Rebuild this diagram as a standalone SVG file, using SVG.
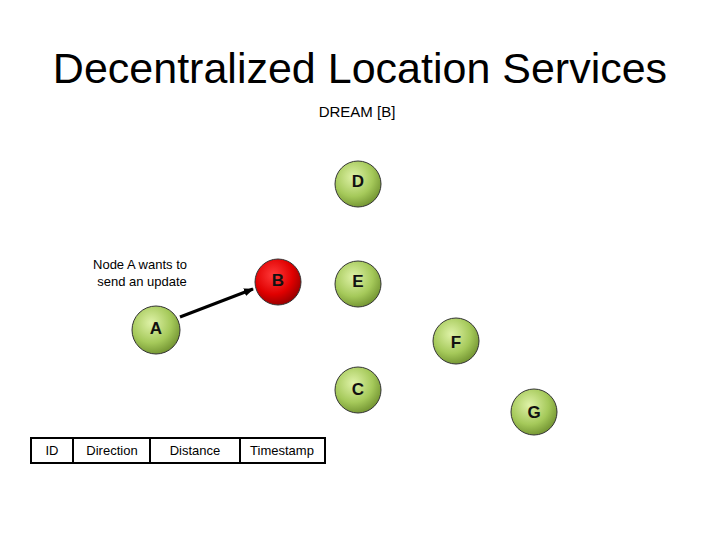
<svg xmlns="http://www.w3.org/2000/svg" width="720" height="540" viewBox="0 0 720 540">
<defs>
<radialGradient id="g" cx="0.4" cy="0.35" r="0.7"><stop offset="0" stop-color="#dff2a8"/><stop offset="0.6" stop-color="#a5c95a"/><stop offset="1" stop-color="#6e8f2e"/></radialGradient>
<radialGradient id="r" cx="0.4" cy="0.35" r="0.7"><stop offset="0" stop-color="#ff3a3a"/><stop offset="0.6" stop-color="#e00000"/><stop offset="1" stop-color="#900000"/></radialGradient>
<marker id="ar" markerWidth="10" markerHeight="8" refX="9" refY="4" orient="auto" markerUnits="userSpaceOnUse"><path d="M0,0 L10,4 L0,8 Z" fill="#000"/></marker>
</defs>
<style>
text{font-family:"Liberation Sans",Arial,sans-serif}
.n circle{stroke:#333;stroke-width:1}
.n text{font-size:17px;font-weight:bold;text-anchor:middle;fill:#111}
.c{font-size:13px;text-anchor:middle}
</style>
<rect width="720" height="540" fill="#fff"/>
<text x="360" y="83" font-size="43" text-anchor="middle">Decentralized Location Services</text>
<text x="357" y="117" font-size="15" text-anchor="middle">DREAM [B]</text>
<text x="140" y="269" font-size="13" text-anchor="middle">Node A wants to</text>
<text x="142" y="286" font-size="13" text-anchor="middle">send an update</text>
<g id="connectors"><line x1="180" y1="317" x2="253" y2="289" stroke="#000" stroke-width="3" marker-end="url(#ar)"/></g>
<g id="D" class="n"><circle cx="358" cy="184" r="23" fill="url(#g)"/><text x="358" y="187">D</text></g>
<g id="B" class="n"><circle cx="278" cy="282" r="23" fill="url(#r)"/><text x="278" y="286">B</text></g>
<g id="E" class="n"><circle cx="358" cy="284" r="23" fill="url(#g)"/><text x="358" y="287">E</text></g>
<g id="A" class="n"><circle cx="156" cy="330" r="24" fill="url(#g)"/><text x="156" y="334">A</text></g>
<g id="F" class="n"><circle cx="456" cy="341" r="23" fill="url(#g)"/><text x="456" y="348">F</text></g>
<g id="C" class="n"><circle cx="358" cy="390" r="23" fill="url(#g)"/><text x="358" y="395">C</text></g>
<g id="G" class="n"><circle cx="534" cy="412" r="23" fill="url(#g)"/><text x="534" y="418">G</text></g>
<g id="table" fill="none" stroke="#000" stroke-width="2">
<rect x="31" y="438" width="294" height="25"/>
<line x1="73" y1="438" x2="73" y2="463"/><line x1="150" y1="438" x2="150" y2="463"/><line x1="240" y1="438" x2="240" y2="463"/>
</g>
<text class="c" x="52" y="455">ID</text>
<text class="c" x="112" y="455">Direction</text>
<text class="c" x="195" y="455">Distance</text>
<text class="c" x="282" y="455">Timestamp</text>
</svg>
